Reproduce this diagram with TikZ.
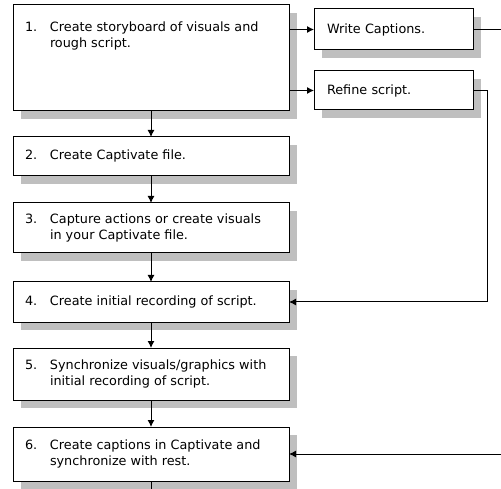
\documentclass[tikz,border=0pt]{standalone}
\usepackage{fontspec}
\setmainfont{DejaVu Sans}
\usetikzlibrary{positioning,shadows,arrows.meta}
\tikzset{
  stepbox/.style = {rectangle, draw, fill=white,
                    minimum width=276pt, inner xsep=12pt, inner ysep=3pt,
                    outer sep=0pt, font=\fontsize{12.8}{16}\selectfont,
                    drop shadow={shadow xshift=8pt, shadow yshift=-8pt,
                                 fill=black!25, opacity=1}},
  sidebox/.style = {stepbox, minimum width=159pt, text width=133pt,
                    inner xsep=13pt, align=left}
}
\newcommand{\steptext}[2]{\begin{tabular}{@{}p{25pt}@{}p{227pt}@{}}#1 & #2\end{tabular}}

\begin{document}
\begin{tikzpicture}[x=1pt, y=1pt, >={Latex[length=7pt,width=7pt]}, line width=1pt,
                    node distance=27pt]
  \useasboundingbox (0,0) rectangle (501,-489);
  \coordinate (rim) at (501,-489);
  \node [stepbox, anchor=north west, minimum height=106pt] (s1) at (13,-5)
        {\parbox[c][98pt][t]{252pt}{\vspace*{11pt}\steptext{1.}{Create storyboard of visuals and\newline rough script.}}};
  \node [stepbox, minimum height=39pt] (s2) [below=26pt of s1] {\steptext{2.}{Create Captivate file.}};
  \node [stepbox, minimum height=50pt] (s3) [below=of s2] {\steptext{3.}{Capture actions or create visuals\newline in your Captivate file.}};
  \node [stepbox, minimum height=40pt] (s4) [below=29pt of s3] {\steptext{4.}{Create initial recording of script.}};
  \node [stepbox, minimum height=52pt] (s5) [below=26pt of s4] {\steptext{5.}{Synchronize visuals/graphics with\newline initial recording of script.}};
  \node [stepbox, minimum height=54pt] (s6) [below=of s5] {\steptext{6.}{Create captions in Captivate and\newline synchronize with rest.}};
  \node [sidebox, minimum height=41pt] (wc) [below right=4pt and 25pt of s1.north east] {Write Captions.};
  \node [sidebox, minimum height=39pt] (rs) [below=21pt of wc] {Refine script.};
  \foreach \a/\b in {s1/s2, s2/s3, s3/s4, s4/s5, s5/s6}
    \draw [->] (\a) -- (\b);
  \draw (s6.south) -- (s6.south |- rim);
  \draw [->] (s1.east |- wc.west) -- (wc.west);
  \draw [->] (s1.east |- rs.west) -- (rs.west);
  \draw (wc.east) -- (wc.east -| rim);
  \draw [->] (rs.east) -- ++(14pt,0) |- (s4.east);
  \draw [->] (s6.east -| rim) -- (s6.east);
\end{tikzpicture}
\end{document}
